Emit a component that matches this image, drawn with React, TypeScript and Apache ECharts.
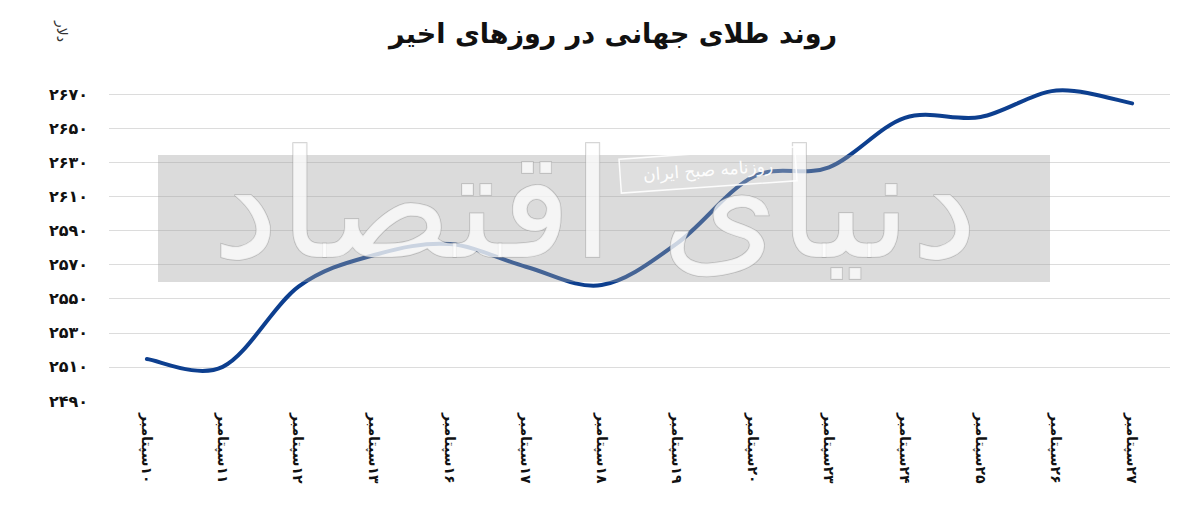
import React, { useEffect, useRef } from "react";
import * as echarts from "echarts";

const categories: string[] = [
  "۱۰سپتامبر", "۱۱سپتامبر", "۱۲سپتامبر", "۱۳سپتامبر", "۱۶سپتامبر", "۱۷سپتامبر", "۱۸سپتامبر",
  "۱۹سپتامبر", "۲۰سپتامبر", "۲۳سپتامبر", "۲۴سپتامبر", "۲۵سپتامبر", "۲۶سپتامبر", "۲۷سپتامبر",
];
const goldPrice: number[] = [
  2514.6, 2510, 2557, 2575.6, 2582, 2568.7, 2558, 2582.6, 2621.5, 2627, 2656, 2656.5, 2672, 2664.5,
];
const yMin = 2490;
const yMax = 2670;
const yStep = 20;
const title = "روند طلای جهانی در روزهای اخیر";
const unit = "دلار";
const watermark = "دنیای اقتصاد";
const stamp = "روزنامه صبح ایران";

const RLM = "\u200F";
const toFa = (s: string) => s.replace(/\d/g, (d) => "۰۱۲۳۴۵۶۷۸۹"[+d]);

export default function App() {
  const ref = useRef<HTMLDivElement>(null);
  useEffect(() => {
    document.body.style.margin = "0";
    if (!ref.current) return;
    const chart = echarts.init(ref.current, undefined, { renderer: "svg" });
    const font = "'DejaVu Sans', 'Noto Sans', sans-serif";
    const splitColors = Array.from({ length: 10 }, (_, i) => (i === 0 ? "rgba(0,0,0,0)" : "#dcdcdc"));
    chart.setOption({
      animation: false,
      backgroundColor: "#ffffff",
      grid: { left: 109, right: 30, top: 94, bottom: 114, containLabel: false },
      xAxis: {
        type: "category",
        data: categories,
        boundaryGap: true,
        axisLine: { show: false },
        axisTick: { show: false },
        axisLabel: {
          rotate: -90,
          margin: 12,
          color: "#111",
          fontSize: 14,
          fontWeight: "bold",
          fontFamily: font,
          formatter: (v: string) => RLM + v,
        },
      },
      yAxis: {
        type: "value",
        min: yMin,
        max: yMax,
        interval: yStep,
        axisLine: { show: false },
        axisTick: { show: false },
        splitLine: { show: true, lineStyle: { color: splitColors, width: 1 } },
        axisLabel: {
          margin: 21,
          color: "#111",
          fontSize: 16,
          fontWeight: "bold",
          fontFamily: font,
          formatter: (v: number) => toFa(String(Math.round(v))),
        },
      },
      series: [
        {
          type: "custom",
          data: goldPrice.map((v, i) => [i, v]),
          encode: { x: 0, y: 1 },
          z: 3,
          renderItem: (params: any, api: any) => {
            if (params.dataIndex !== 0) return null;
            const n = goldPrice.length;
            const pts = goldPrice.map((v, i) => api.coord([i, v]));
            let d = `M${pts[0][0]},${pts[0][1]}`;
            for (let i = 0; i < n - 1; i++) {
              const p0 = pts[Math.max(i - 1, 0)];
              const p1 = pts[i];
              const p2 = pts[i + 1];
              const p3 = pts[Math.min(i + 2, n - 1)];
              const c1x = p1[0] + (p2[0] - p0[0]) / 6;
              const c1y = p1[1] + (p2[1] - p0[1]) / 6;
              const c2x = p2[0] - (p3[0] - p1[0]) / 6;
              const c2y = p2[1] - (p3[1] - p1[1]) / 6;
              d += ` C${c1x},${c1y} ${c2x},${c2y} ${p2[0]},${p2[1]}`;
            }
            return {
              type: "path",
              shape: { pathData: d },
              style: { fill: "none", stroke: "#0d3f8f", lineWidth: 4, lineCap: "round", lineJoin: "round" },
            };
          },
        },
      ],
      graphic: [
        {
          type: "text",
          x: 613,
          y: 20,
          style: {
            text: title,
            fontSize: 27,
            fontWeight: "bold",
            fontFamily: font,
            fill: "#111",
            align: "center",
            verticalAlign: "top",
          },
        },
        {
          type: "text",
          x: 69,
          y: 21,
          rotation: -Math.PI / 2,
          style: { text: unit, fontSize: 14, fontFamily: font, fill: "#333", verticalAlign: "top" },
        },
        {
          type: "rect",
          z: 50,
          shape: { x: 158, y: 155, width: 892, height: 127 },
          style: { fill: "rgba(160,160,160,0.38)" },
        },
        {
          type: "text",
          z: 51,
          x: 595,
          y: 205,
          style: {
            text: watermark,
            fontSize: 150,
            fontFamily: font,
            align: "center",
            verticalAlign: "middle",
            fill: "rgba(255,255,255,0.72)",
            stroke: "rgba(150,150,150,0.5)",
            lineWidth: 1.5,
          },
        },
        {
          type: "rect",
          z: 60,
          x: 708,
          y: 170,
          rotation: 0.07,
          shape: { x: -88, y: -17, width: 176, height: 34 },
          style: { fill: "rgba(255,255,255,0.12)", stroke: "rgba(255,255,255,0.9)", lineWidth: 1.5 },
        },
        {
          type: "text",
          z: 61,
          x: 708,
          y: 170,
          rotation: 0.07,
          style: {
            text: stamp,
            fontSize: 17,
            fontFamily: font,
            align: "center",
            verticalAlign: "middle",
            fill: "rgba(255,255,255,0.95)",
          },
        },
      ],
    });
    return () => chart.dispose();
  }, []);
  return <div ref={ref} style={{ width: 1200, height: 515 }} />;
}
